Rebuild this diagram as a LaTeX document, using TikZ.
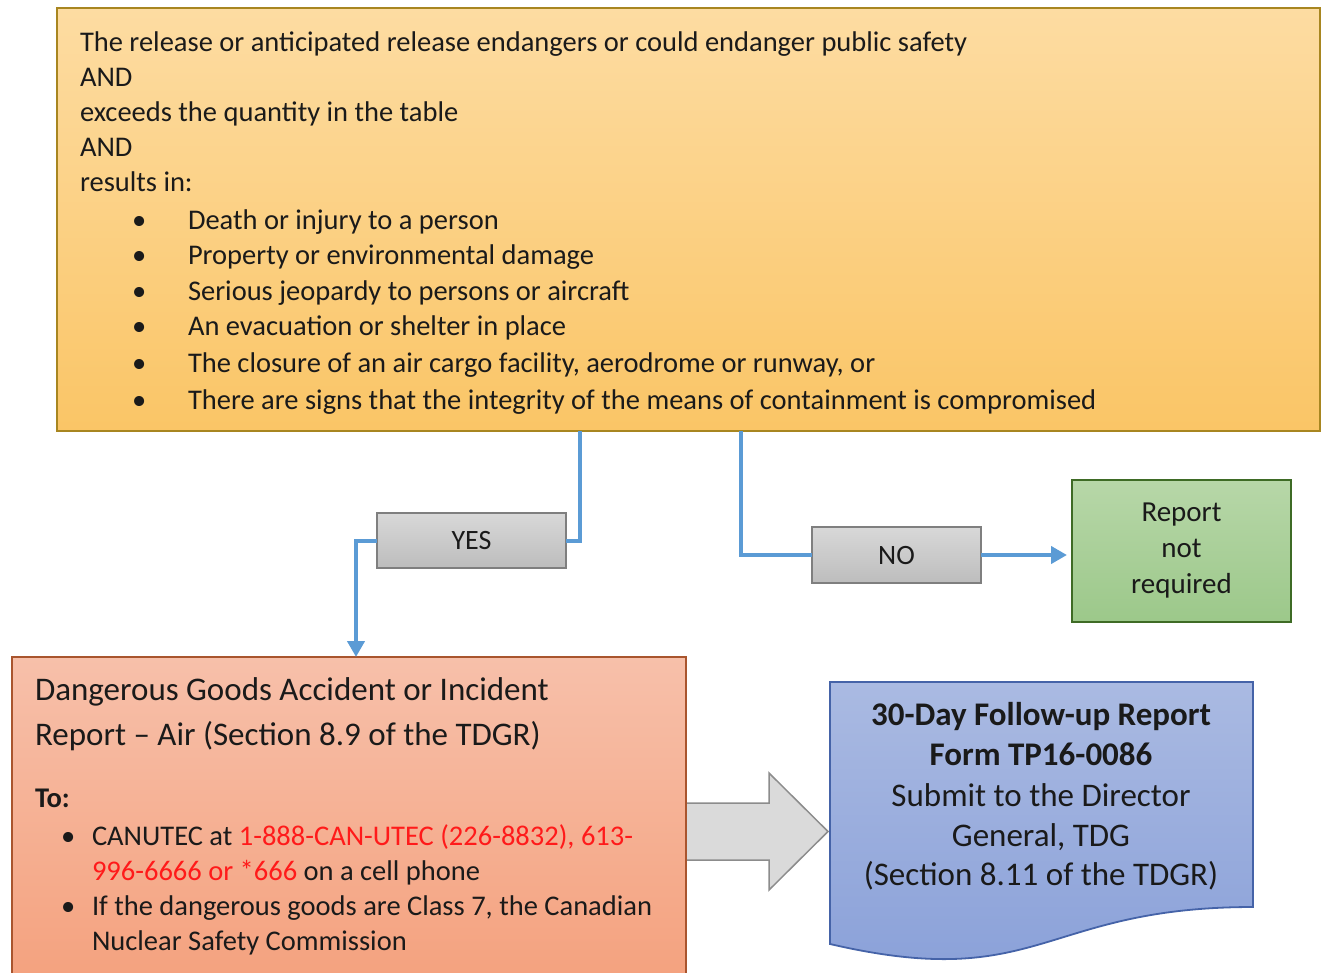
\documentclass[tikz,border=0pt]{standalone}
\usepackage{fontspec}
\setmainfont{Carlito}
\usetikzlibrary{arrows.meta}
\definecolor{ink}{HTML}{1A1A1A}
\definecolor{goldline}{HTML}{A88620}
\definecolor{goldtop}{HTML}{FDDCA2}
\definecolor{goldbot}{HTML}{FAC566}
\definecolor{redline}{HTML}{A9552E}
\definecolor{redtop}{HTML}{F7C0AA}
\definecolor{redbot}{HTML}{F4A07C}
\definecolor{greenline}{HTML}{3E6B25}
\definecolor{greentop}{HTML}{B7D7A8}
\definecolor{greenbot}{HTML}{9CC88A}
\definecolor{blueline}{HTML}{4563A8}
\definecolor{bluetop}{HTML}{AABAE2}
\definecolor{bluebot}{HTML}{889FD8}
\definecolor{greyline}{HTML}{7F7F7F}
\definecolor{greytop}{HTML}{D8D8D8}
\definecolor{greybot}{HTML}{BDBDBD}
\definecolor{connblue}{HTML}{5B9BD5}
\definecolor{phonered}{HTML}{FF1A1A}
\begin{document}
\begin{tikzpicture}[x=1pt,y=-1pt,
  boxnode/.style={draw, line width=1.8pt, inner sep=0pt, outer sep=0pt, anchor=north west},
  maintxt/.style={anchor=base west, inner sep=0pt, outer sep=0pt, text=ink, font=\fontsize{28.5}{35}\selectfont},
  titletxt/.style={anchor=base west, inner sep=0pt, outer sep=0pt, text=ink, font=\fontsize{33}{44}\selectfont},
  doctxt/.style={anchor=base, inner sep=0pt, outer sep=0pt, text=ink, font=\fontsize{33}{40}\selectfont},
  conn/.style={draw=connblue, line width=4pt},
  conntip/.style={conn, -{Triangle[length=16pt,width=17pt]}},
  greybox/.style={boxnode, draw=greyline, line width=1.5pt, top color=greytop, bottom color=greybot, text=ink, font=\fontsize{28}{34}\selectfont}
]
\useasboundingbox (0,0) rectangle (1321,972);
\clip (0,0) rectangle (1321,972);

% top condition box
\node[boxnode, draw=goldline, top color=goldtop, bottom color=goldbot,
      minimum width=1263pt, minimum height=423pt] (cond) at (57,8) {};
\node[maintxt] (c1) at (80,51) {The release or anticipated release endangers or could endanger public safety};
\node[maintxt] (c2) at (80,86) {AND};
\node[maintxt] (c3) at (80,121) {exceeds the quantity in the table};
\node[maintxt] (c4) at (80,156) {AND};
\node[maintxt] (c5) at (80,191) {results in:};
\foreach \yy/\tt [count=\i] in {229/{Death or injury to a person},
  264/{Property or environmental damage},
  300/{Serious jeopardy to persons or aircraft},
  335/{An evacuation or shelter in place},
  372/{The closure of an air cargo facility, aerodrome or runway, or},
  409/{There are signs that the integrity of the means of containment is compromised}}{
  \node[maintxt] (cb\i) at (132,\yy) {•};
  \node[maintxt] (ct\i) at (188,\yy) {\tt};
}

% YES / NO boxes
\node[greybox, minimum width=189pt, minimum height=55pt] (yes) at (377,513) {\raisebox{-2.5pt}{YES}};
\node[greybox, minimum width=169pt, minimum height=56pt] (no) at (812,527) {\raisebox{-2.5pt}{NO}};

% report not required
\node[boxnode, draw=greenline, top color=greentop, bottom color=greenbot,
      minimum width=219pt, minimum height=142pt, align=center, text=ink,
      font=\fontsize{29}{36}\selectfont] (ok) at (1072,480) {Report\\not\\required};

% block arrow
\path[draw=greyline!90, line width=1.5pt, fill=greytop!95!white]
  (676,803) -- (769,803) -- (769,773) -- (828,831.5) -- (769,890) -- (769,860) -- (676,860) -- cycle;

% report box (red)
\node[boxnode, draw=redline, top color=redtop, bottom color=redbot,
      minimum width=674pt, minimum height=340pt] (rep) at (12,657) {};
\node[titletxt] (r1) at (35,700) {Dangerous Goods Accident or Incident};
\node[titletxt] (r2) at (35,745) {Report – Air (Section 8.9 of the TDGR)};
\node[maintxt, font=\fontsize{28.5}{35}\selectfont\bfseries] (r3) at (35,807) {To:};
\node[maintxt] (rb1) at (61,845) {•};
\node[maintxt] (rt1) at (92,845) {CANUTEC at \textcolor{phonered}{1-888-CAN-UTEC (226-8832), 613-}};
\node[maintxt] (rt2) at (92,880) {\textcolor{phonered}{996-6666 or *666} on a cell phone};
\node[maintxt] (rb2) at (61,915) {•};
\node[maintxt] (rt3) at (92,915) {If the dangerous goods are Class 7, the Canadian};
\node[maintxt] (rt4) at (92,950) {Nuclear Safety Commission};

% follow-up document shape
\path[draw=blueline, line width=1.8pt, top color=bluetop, bottom color=bluebot]
  (830,682) -- (1253,682) -- (1253,907) .. controls (1041,907) and (1041,993) .. (830,944) -- cycle;
\node[doctxt, font=\fontsize{33}{40}\selectfont\bfseries] (d1) at (1041,725) {30-Day Follow-up Report};
\node[doctxt, font=\fontsize{33}{40}\selectfont\bfseries] (d2) at (1041,765) {Form TP16-0086};
\node[doctxt] (d3) at (1041,806) {Submit to the Director};
\node[doctxt] (d4) at (1041,846) {General, TDG};
\node[doctxt] (d5) at (1041,885) {(Section 8.11 of the TDGR)};

% connectors
\draw[conn] ([xshift=-109pt]cond.south) |- (yes.east);
\draw[conntip] (yes.west) -| ([xshift=7pt]rep.north);
\draw[conn] ([xshift=52pt]cond.south) |- (no.west);
\draw[conntip, shorten >=5pt] (no.east) -- (no.east -| ok.west);
\end{tikzpicture}
\end{document}
